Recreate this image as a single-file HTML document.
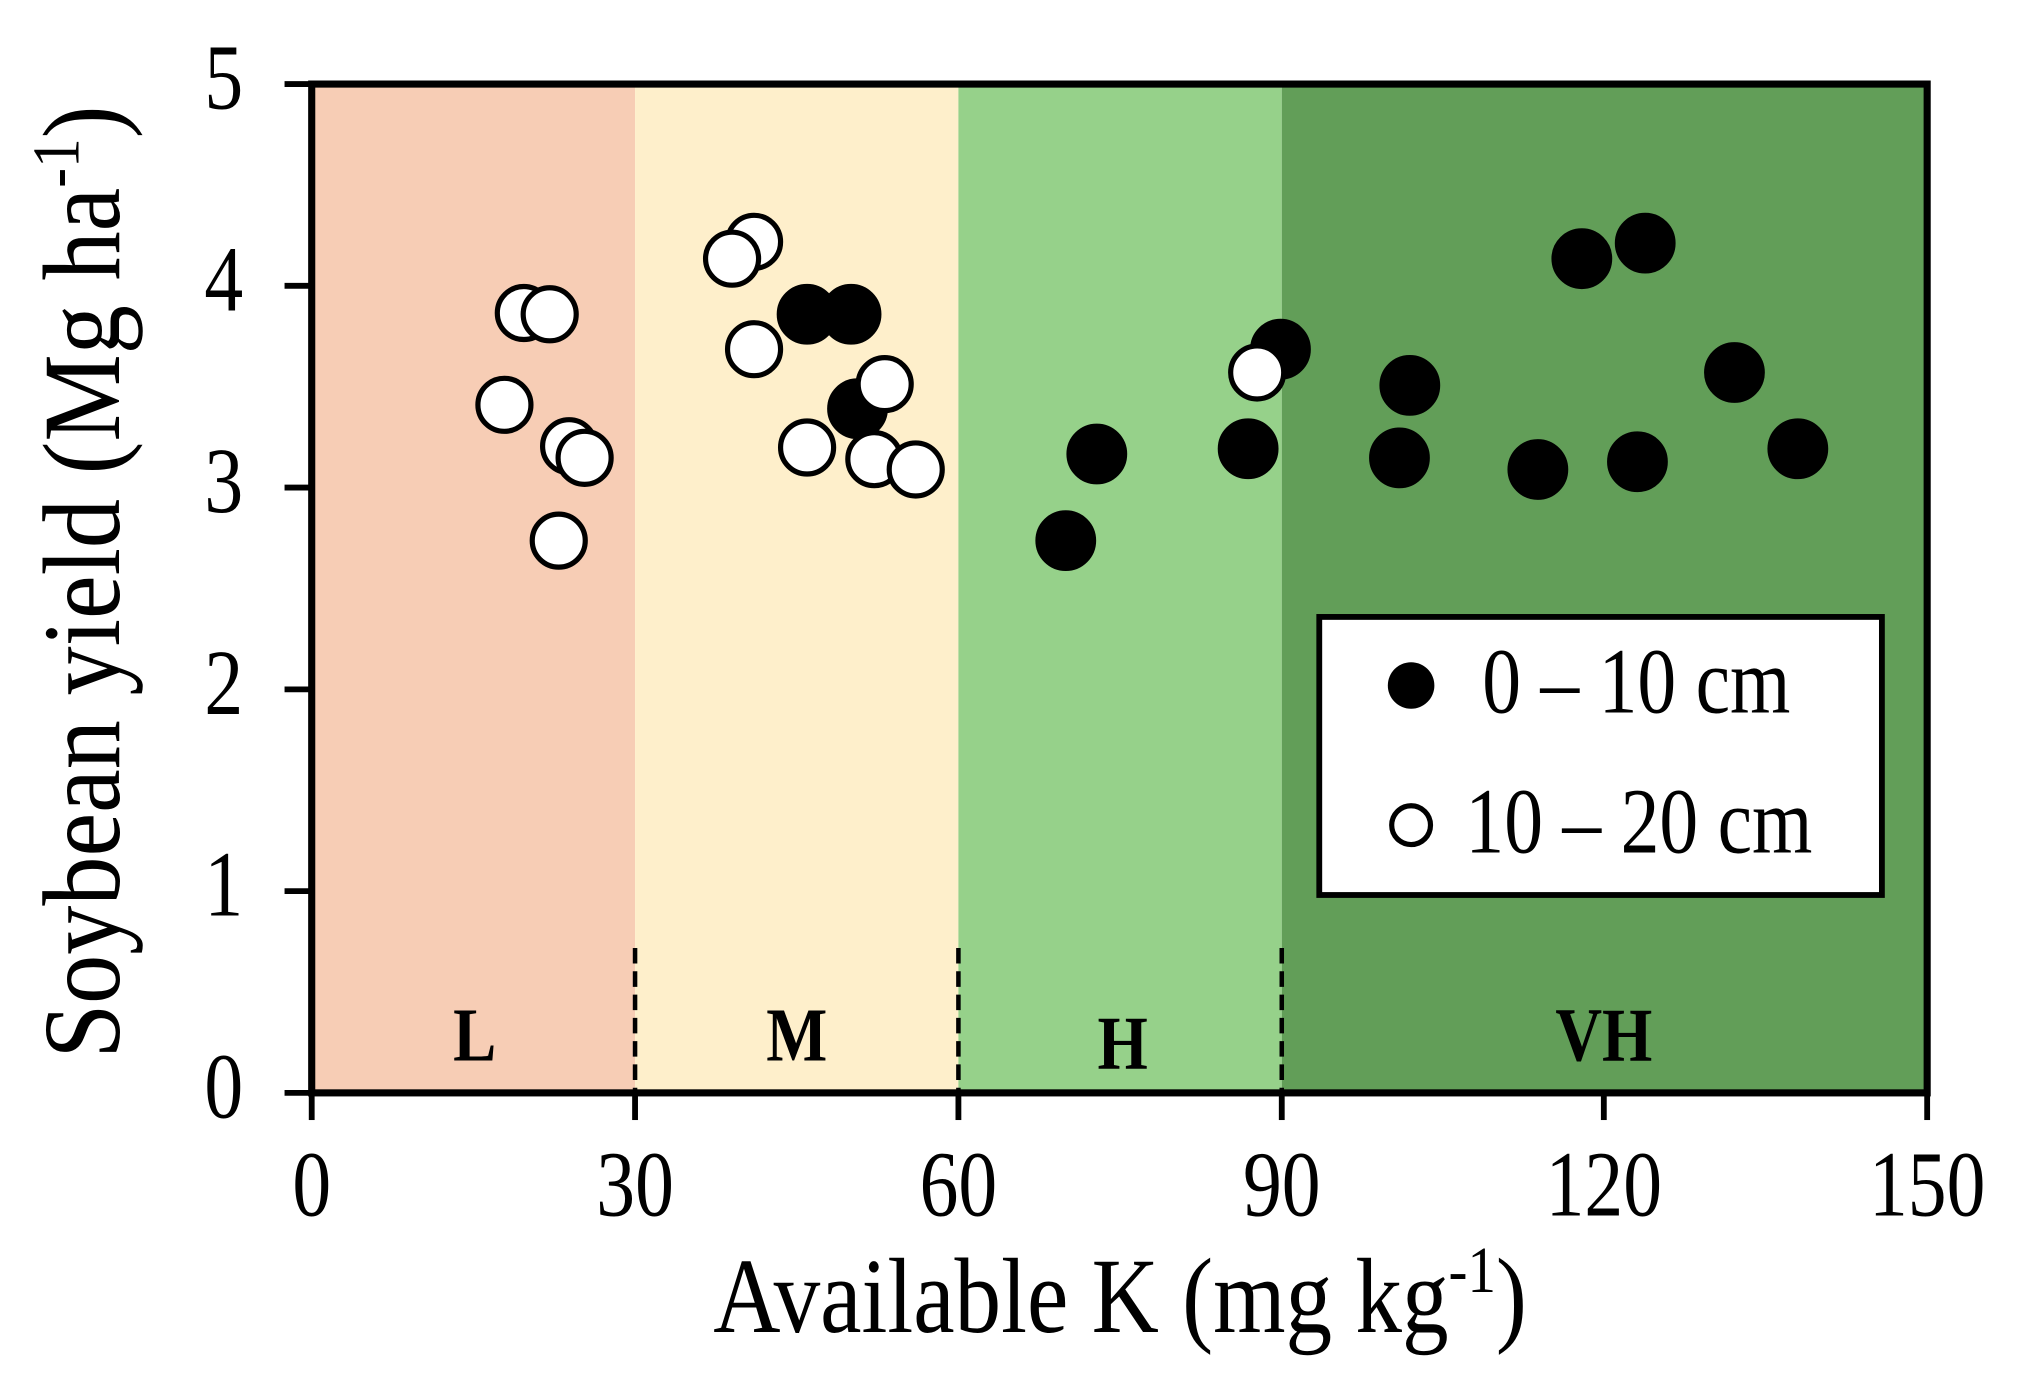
<!DOCTYPE html>
<html><head><meta charset="utf-8"><style>html,body{margin:0;padding:0;background:#fff}svg{display:block}</style></head>
<body>
<svg width="2019" height="1380" viewBox="0 0 1561 1067" preserveAspectRatio="none" xmlns="http://www.w3.org/2000/svg" font-family="'Liberation Serif', serif">
<rect x="241" y="65" width="250" height="780" fill="#F7CDB5"/>
<rect x="491" y="65" width="250" height="780" fill="#FEEFCB"/>
<rect x="741" y="65" width="250" height="780" fill="#96D18A"/>
<rect x="991" y="65" width="499" height="780" fill="#629E58"/>
<g stroke="#000" stroke-width="3.5" stroke-dasharray="12,6">
<line x1="491" y1="733" x2="491" y2="845"/><line x1="741" y1="733" x2="741" y2="845"/><line x1="991" y1="733" x2="991" y2="845"/>
</g>
<g font-size="50" font-weight="bold" text-anchor="middle">
<text transform="translate(367,820) scale(1,1.18)">L</text>
<text transform="translate(616,820) scale(1,1.18)">M</text>
<text transform="translate(868,826) scale(1,1.18)">H</text>
<text transform="translate(1240,820) scale(1,1.18)">VH</text>
</g>
<rect x="241" y="65" width="1249" height="780" fill="none" stroke="#000" stroke-width="5.5"/>
<g stroke="#000" stroke-width="4.5">
<line x1="220" y1="65" x2="241" y2="65"/><line x1="220" y1="221" x2="241" y2="221"/><line x1="220" y1="377" x2="241" y2="377"/><line x1="220" y1="533" x2="241" y2="533"/><line x1="220" y1="689" x2="241" y2="689"/><line x1="220" y1="845" x2="241" y2="845"/>
<line x1="241" y1="845" x2="241" y2="866"/><line x1="491" y1="845" x2="491" y2="866"/><line x1="741" y1="845" x2="741" y2="866"/><line x1="991" y1="845" x2="991" y2="866"/><line x1="1240" y1="845" x2="1240" y2="866"/><line x1="1490" y1="845" x2="1490" y2="866"/>
</g>
<g font-size="60" text-anchor="end">
<text transform="translate(188,84) scale(1,1.2)">5</text>
<text transform="translate(188,240) scale(1,1.2)">4</text>
<text transform="translate(188,396) scale(1,1.2)">3</text>
<text transform="translate(188,552) scale(1,1.2)">2</text>
<text transform="translate(188,708) scale(1,1.2)">1</text>
<text transform="translate(188,864) scale(1,1.2)">0</text>
</g>
<g font-size="60" text-anchor="middle">
<text transform="translate(241,940) scale(1,1.2)">0</text>
<text transform="translate(491,940) scale(1,1.2)">30</text>
<text transform="translate(741,940) scale(1,1.2)">60</text>
<text transform="translate(991,940) scale(1,1.2)">90</text>
<text transform="translate(1240,940) scale(1,1.2)">120</text>
<text transform="translate(1490,940) scale(1,1.2)">150</text>
</g>
<text transform="translate(866,1030) scale(1,1.15)" font-size="72" text-anchor="middle">Available K (mg kg<tspan font-size="44" dy="-27">-1</tspan><tspan dy="27">)</tspan></text>
<text transform="translate(92,450) rotate(-90) scale(1,1.12)" font-size="76" text-anchor="middle">Soybean yield (Mg ha<tspan font-size="46" dy="-28">-1</tspan><tspan dy="28">)</tspan></text>
<g fill="#000" stroke="#000" stroke-width="3">
<circle cx="624" cy="243" r="22"/><circle cx="658" cy="243" r="22"/><circle cx="663" cy="316" r="22"/><circle cx="824" cy="418" r="22"/><circle cx="848" cy="351" r="22"/><circle cx="965" cy="347" r="22"/><circle cx="990" cy="270" r="22"/><circle cx="1082" cy="354" r="22"/><circle cx="1090" cy="298" r="22"/><circle cx="1189" cy="363" r="22"/><circle cx="1223" cy="200" r="22"/><circle cx="1266" cy="357" r="22"/><circle cx="1272" cy="188" r="22"/><circle cx="1341" cy="288" r="22"/><circle cx="1390" cy="347" r="22"/>
</g>
<g fill="#fff" stroke="#000" stroke-width="4">
<circle cx="405" cy="242" r="20.5"/><circle cx="425" cy="243" r="20.5"/><circle cx="390" cy="313" r="20.5"/><circle cx="440" cy="345" r="20.5"/><circle cx="452" cy="354" r="20.5"/><circle cx="432" cy="418" r="20.5"/><circle cx="583" cy="187" r="20.5"/><circle cx="566" cy="200" r="20.5"/><circle cx="583" cy="270" r="20.5"/><circle cx="624" cy="346" r="20.5"/><circle cx="684" cy="297" r="20.5"/><circle cx="676" cy="355" r="20.5"/><circle cx="708" cy="363" r="20.5"/><circle cx="972" cy="288" r="20.5"/>
</g>
<rect x="1020" y="477" width="435" height="215" fill="#fff" stroke="#000" stroke-width="4.5"/>
<circle cx="1091" cy="530" r="18" fill="#000"/>
<circle cx="1091" cy="638" r="15" fill="#fff" stroke="#000" stroke-width="4"/>
<text transform="translate(1146,551) scale(1,1.2)" font-size="60">0 – 10 cm</text>
<text transform="translate(1133,659) scale(1,1.2)" font-size="60">10 – 20 cm</text>
</svg>
</body></html>
